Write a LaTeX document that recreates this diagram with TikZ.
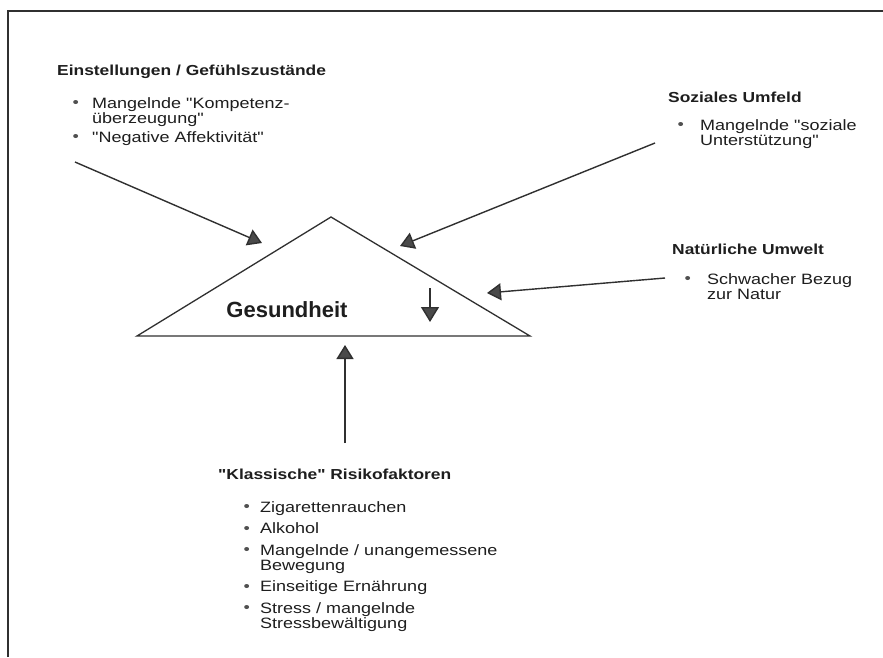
\documentclass[tikz,border=0pt]{standalone}
\usepackage{fontspec}
% families declared without the TeX ligature mapping, so " stays straight
\newfontfamily\bodyfont{Liberation Sans}[FakeStretch=1.2]
\newfontfamily\plainsans{Liberation Sans}
\usetikzlibrary{arrows.meta}
\definecolor{ink}{HTML}{1E1E1E}
\definecolor{line}{HTML}{303030}
\definecolor{tipc}{HTML}{4A4A4A}
\definecolor{dotc}{HTML}{505050}
\newcommand\itemdot[1]{\makebox[#1][l]{\textcolor{dotc}{\fontsize{15}{15}\selectfont\raisebox{0.5pt}{•}}}}
\tikzset{
  head/.style={anchor=base west, inner sep=0pt, text=ink,
    font=\bodyfont\fontsize{14.5}{15}\selectfont\bfseries},
  blist/.style={anchor=north west, inner sep=0pt, align=left, text=ink,
    font=\bodyfont\fontsize{15}{15}\selectfont},
  arr/.style={draw=line, line width=1.4pt,
    -{Triangle[length=14pt,width=17pt,fill=tipc]}},
  tri/.style={draw=line, line width=1.3pt, line join=miter},
}
\begin{document}
\begin{tikzpicture}[x=1pt,y=-1pt]
\useasboundingbox (0,0) rectangle (883,657);
\fill[white] (0,0) rectangle (883,657);
% page frame
\draw[line width=1.8pt, draw=line] (8,657) -- (8,11) -- (883,11);

% central triangle
\coordinate (tl) at (137,336);
\coordinate (tt) at (331,217);
\coordinate (tr) at (530,336);
\draw[tri] (tl) -- (tt) -- (tr) -- cycle;
\node[text=ink, font=\plainsans\fontsize{22}{22}\selectfont\bfseries] (ges) at (287,310) {Gesundheit};
\coordinate (dn1) at (430,288);
\coordinate (dn2) at (430,322);
\draw[arr, -{Triangle[length=15pt,width=18pt,fill=tipc]}] (dn1) -- (dn2);

% attitudes
\node[head] (h1) at (57,75) {Einstellungen / Gefühlszustände};
\node[blist] (l1) at (72.5,97) {\itemdot{19.5pt}Mangelnde "Kompetenz-\\
  \hspace*{19.5pt}überzeugung"\\[4pt]
  \itemdot{19.5pt}"Negative Affektivität"};
\coordinate (a1s) at (75,162);
\coordinate (a1e) at (262,243);
\draw[arr] (a1s) -- (a1e);

% social environment
\node[head] (h2) at (668,102) {Soziales Umfeld};
\node[blist] (l2) at (677.5,119) {\itemdot{22.5pt}Mangelnde "soziale\\
  \hspace*{22.5pt}Unterstützung"};
\coordinate (a2s) at (655,143);
\coordinate (a2e) at (400,246);
\draw[arr] (a2s) -- (a2e);

% natural environment
\node[head] (h3) at (672,254) {Natürliche Umwelt};
\node[blist] (l3) at (684.5,273) {\itemdot{22.5pt}Schwacher Bezug\\
  \hspace*{22.5pt}zur Natur};
\coordinate (a3s) at (665,278);
\coordinate (a3e) at (487,293);
\draw[arr] (a3s) -- (a3e);

% classic risk factors
\node[head] (h4) at (218,479) {"Klassische" Risikofaktoren};
\node[blist] (l4) at (243.5,501) {\itemdot{16.5pt}Zigarettenrauchen\\[6.5pt]
  \itemdot{16.5pt}Alkohol\\[6.5pt]
  \itemdot{16.5pt}Mangelnde / unangemessene\\
  \hspace*{16.5pt}Bewegung\\[6.5pt]
  \itemdot{16.5pt}Einseitige Ernährung\\[6.5pt]
  \itemdot{16.5pt}Stress / mangelnde\\
  \hspace*{16.5pt}Stressbewältigung};
\coordinate (a4s) at (345,443);
\coordinate (a4e) at (345,345);
\draw[arr] (a4s) -- (a4e);
\end{tikzpicture}
\end{document}
